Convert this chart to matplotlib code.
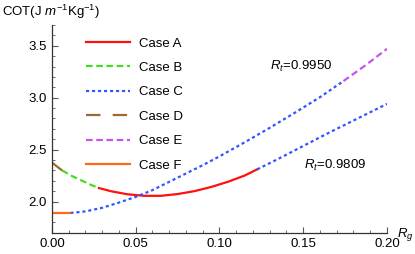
import matplotlib
matplotlib.use("Agg")
import matplotlib.pyplot as plt
from matplotlib.ticker import MultipleLocator, FormatStrFormatter

plt.rcParams['font.family'] = ['Liberation Sans', 'DejaVu Sans']
plt.rcParams['mathtext.fontset'] = 'custom'
plt.rcParams['mathtext.rm'] = 'Liberation Sans'
plt.rcParams['mathtext.it'] = 'Liberation Sans:italic'
plt.rcParams['mathtext.bf'] = 'Liberation Sans:bold'

# curva Rt = 0.9809 (arranca arriba en Rg=0)
rg_d = [0.0, 0.006]
cot_d = [2.375, 2.30]
rg_b = [0.006, 0.012, 0.018, 0.023, 0.028]
cot_b = [2.30, 2.245, 2.20, 2.162, 2.13]
rg_a = [0.028, 0.035, 0.045, 0.055, 0.065, 0.075, 0.085, 0.095, 0.105, 0.115, 0.1225]
cot_a = [2.13, 2.10, 2.07, 2.055, 2.055, 2.072, 2.10, 2.14, 2.19, 2.25, 2.31]
rg_c1 = [0.1225, 0.135, 0.15, 0.165, 0.18, 0.19, 0.20]
cot_c1 = [2.31, 2.41, 2.535, 2.66, 2.78, 2.86, 2.94]

# curva Rt = 0.9950 (arranca abajo)
rg_f = [0.0, 0.011]
cot_f = [1.89, 1.89]
rg_c2 = [0.011, 0.02, 0.03, 0.04, 0.05, 0.06, 0.075, 0.09, 0.10, 0.115, 0.13, 0.145, 0.16, 0.174]
cot_c2 = [1.89, 1.905, 1.94, 1.99, 2.045, 2.11, 2.23, 2.35, 2.435, 2.57, 2.71, 2.855, 3.005, 3.16]
rg_e = [0.174, 0.187, 0.20]
cot_e = [3.16, 3.31, 3.47]

labels = ["Case A", "Case B", "Case C", "Case D", "Case E", "Case F"]
rt_labels = ["$R_t$=0.9950", "$R_t$=0.9809"]

red = "#ff1010"
green = "#44dd22"
blue = "#3355ff"
brown = "#9c6a30"
purple = "#c455ee"
orange = "#ff6a1a"

lw = 1.6
fig = plt.figure(figsize=(4.15, 2.54), dpi=100)
ax = fig.add_axes([0.1253, 0.0839, 0.8072, 0.8177])

la, = ax.plot(rg_a, cot_a, color=red, lw=lw, label=labels[0])
lb, = ax.plot(rg_b, cot_b, color=green, lw=lw, ls=(0, (3.0, 1.6)), label=labels[1])
lc, = ax.plot(rg_c2, cot_c2, color=blue, lw=lw, ls=(0, (1.4, 1.3)), label=labels[2])
ax.plot(rg_c1, cot_c1, color=blue, lw=lw, ls=(0, (1.4, 1.3)))
ld, = ax.plot(rg_d, cot_d, color=brown, lw=lw, ls=(0, (6.5, 5.5)), label=labels[3])
le, = ax.plot(rg_e, cot_e, color=purple, lw=lw, ls=(0, (3.0, 1.6)), label=labels[4])
lf, = ax.plot(rg_f, cot_f, color=orange, lw=lw, label=labels[5])

ax.legend(handles=[la, lb, lc, ld, le, lf], loc='upper left', bbox_to_anchor=(0.1015, 0.940),
          frameon=False, borderpad=0, borderaxespad=0, fontsize=9.5, handlelength=3.33,
          handletextpad=0.68, labelspacing=0.92)

ax.text(0.130, 3.30, rt_labels[0], fontsize=9.5, va='center', ha='left')
ax.text(0.1504, 2.351, rt_labels[1], fontsize=9.5, va='center', ha='left')

ax.set_xlim(0, 0.2)
ax.set_ylim(1.7, 3.7)
ax.xaxis.set_major_locator(MultipleLocator(0.05))
ax.xaxis.set_minor_locator(MultipleLocator(0.01))
ax.yaxis.set_major_locator(MultipleLocator(0.5))
ax.yaxis.set_minor_locator(MultipleLocator(0.1))
ax.xaxis.set_major_formatter(FormatStrFormatter('%.2f'))
ax.yaxis.set_major_formatter(FormatStrFormatter('%.1f'))

for s in ['top', 'right']:
    ax.spines[s].set_visible(False)
for s in ['left', 'bottom']:
    ax.spines[s].set_color('#333333')
    ax.spines[s].set_linewidth(0.9)
ax.tick_params(which='both', direction='in', colors='#555555', labelcolor='black', labelsize=9.5)
ax.tick_params(which='major', length=4, width=0.8, pad=4)
ax.tick_params(which='minor', length=2.2, width=0.6)

fig.text(0.005, 0.953, "COT(J $m^{-1}$Kg$^{-1}$)", fontsize=9.5, va='center', ha='left')
ax.text(1.03, -0.022, "$R_g$", transform=ax.transAxes, fontsize=9.5, va='baseline', ha='left')

fig.savefig("out.png", dpi=100)
